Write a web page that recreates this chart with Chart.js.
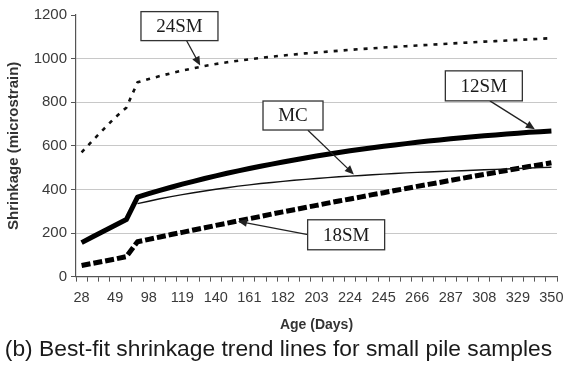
<!DOCTYPE html>
<html>
<head>
<meta charset="utf-8">
<script src="https://cdn.jsdelivr.net/npm/chart.js@4.4.1/dist/chart.umd.min.js"></script>
<style>
  html, body { margin: 0; padding: 0; background: #fff; }
  canvas { display: block; filter: blur(0.4px); }
</style>
</head>
<body>
<canvas id="c" width="563" height="367"></canvas>
<script>
// Sample ages (days) - weekly readings, with a gap between day 56 and day 91
const ageDays = [28, 35, 42, 49, 56, 91, 98, 105, 112, 119, 126, 133, 140, 147, 154, 161,
  168, 175, 182, 189, 196, 203, 210, 217, 224, 231, 238, 245, 252, 259, 266, 273, 280,
  287, 294, 301, 308, 315, 322, 329, 336, 343, 350];

// Days that carry a printed axis label
const labeledDays = [28, 49, 98, 119, 140, 161, 182, 203, 224, 245, 266, 287, 308, 329, 350];

// Best-fit shrinkage (microstrain)
const shrink24SM = [570, 625, 678, 730, 775,
  891, 906, 920, 933, 945, 956, 966, 975, 983, 990,
  997, 1003, 1009, 1014, 1019, 1024, 1028, 1032, 1036, 1040,
  1044, 1047, 1051, 1054, 1057, 1060, 1063, 1066, 1069, 1072,
  1075, 1078, 1080, 1083, 1086, 1088, 1091, 1094];

const shrink12SM = [156, 183, 209, 236, 262,
  365, 381, 396, 410, 424, 437, 450, 462, 474, 485,
  496, 506, 516, 526, 535, 544, 553, 561, 569, 577,
  584, 591, 598, 604, 610, 616, 622, 627, 632, 637,
  642, 646, 650, 654, 658, 662, 665, 668];

const shrinkMC = [null, null, null, null, null,
  335, 346, 357, 367, 376, 385, 393, 401, 408, 415,
  421, 427, 432, 437, 442, 446, 450, 454, 458, 461,
  464, 467, 470, 473, 476, 478, 480, 482, 484, 486,
  488, 490, 492, 494, 496, 498, 500, 502];

const shrink18SM = [51, 61, 71, 81, 92,
  160, 171, 182, 193, 203, 214, 224, 235, 245, 256,
  266, 276, 287, 297, 307, 317, 327, 337, 347, 356,
  366, 376, 385, 395, 404, 414, 423, 432, 442, 451,
  460, 469, 478, 487, 496, 505, 513, 522];

// Boxed series names with arrows; positions in (category index, microstrain)
const callouts = [
  { text: '24SM', cx: 8.75,  cy: 1149, w: 77, h: 29, from: [9.39, 1082],  to: [10.6, 968] },
  { text: '12SM', cx: 35.96, cy: 875,  w: 77, h: 30, from: [36.5, 806],   to: [40.52, 676] },
  { text: 'MC',   cx: 18.9,  cy: 739,  w: 60, h: 29, from: [20.23, 671],  to: [24.34, 469] },
  { text: '18SM', cx: 23.65, cy: 192,  w: 77, h: 30, from: [20.23, 193],  to: [13.98, 254] }
];

Chart.defaults.font.family = "'Liberation Sans', Arial, sans-serif";

const calloutPlugin = {
  id: 'callouts',
  afterDatasetsDraw(chart) {
    const { ctx } = chart;
    const xs = chart.scales.x, ys = chart.scales.y;
    ctx.save();
    callouts.forEach(c => {
      const x0 = xs.getPixelForValue(c.from[0]), y0 = ys.getPixelForValue(c.from[1]);
      const x1 = xs.getPixelForValue(c.to[0]),   y1 = ys.getPixelForValue(c.to[1]);
      const ang = Math.atan2(y1 - y0, x1 - x0);
      const headLen = 9, headHalf = 4;
      // arrow shaft
      ctx.strokeStyle = '#222';
      ctx.lineWidth = 1.3;
      ctx.beginPath();
      ctx.moveTo(x0, y0);
      ctx.lineTo(x1 - Math.cos(ang) * headLen * 0.8, y1 - Math.sin(ang) * headLen * 0.8);
      ctx.stroke();
      // arrow head
      ctx.fillStyle = '#222';
      ctx.beginPath();
      ctx.moveTo(x1, y1);
      ctx.lineTo(x1 - Math.cos(ang) * headLen - Math.sin(ang) * headHalf,
                 y1 - Math.sin(ang) * headLen + Math.cos(ang) * headHalf);
      ctx.lineTo(x1 - Math.cos(ang) * headLen + Math.sin(ang) * headHalf,
                 y1 - Math.sin(ang) * headLen - Math.cos(ang) * headHalf);
      ctx.closePath();
      ctx.fill();
      // box
      const bx = xs.getPixelForValue(c.cx) - c.w / 2;
      const by = ys.getPixelForValue(c.cy) - c.h / 2;
      ctx.fillStyle = '#fff';
      ctx.fillRect(bx, by, c.w, c.h);
      ctx.strokeStyle = '#333';
      ctx.lineWidth = 1.3;
      ctx.strokeRect(bx, by, c.w, c.h);
      // label
      ctx.fillStyle = '#1a1a1a';
      ctx.font = "19px 'Liberation Serif', 'Times New Roman', serif";
      ctx.textAlign = 'center';
      ctx.textBaseline = 'middle';
      ctx.fillText(c.text, bx + c.w / 2, by + c.h / 2 + 1);
    });
    ctx.restore();
  }
};

const lineBase = { pointRadius: 0, pointHoverRadius: 0, tension: 0, fill: false, borderJoinStyle: 'round' };

new Chart(document.getElementById('c'), {
  type: 'line',
  data: {
    labels: ageDays.map(String),
    datasets: [
      Object.assign({ label: '24SM', data: shrink24SM, borderColor: '#111', borderWidth: 2.6, borderDash: [4, 6] }, lineBase),
      Object.assign({ label: '12SM', data: shrink12SM, borderColor: '#000', borderWidth: 5 }, lineBase),
      Object.assign({ label: 'MC', data: shrinkMC, borderColor: '#111', borderWidth: 1.4 }, lineBase),
      Object.assign({ label: '18SM', data: shrink18SM, borderColor: '#000', borderWidth: 5, borderDash: [9, 3] }, lineBase)
    ]
  },
  options: {
    responsive: false,
    animation: false,
    devicePixelRatio: 1,
    layout: { padding: { top: 15, right: 6, bottom: 0, left: 0 } },
    plugins: {
      legend: { display: false },
      tooltip: { enabled: false },
      title: {
        display: true,
        position: 'bottom',
        text: '(b) Best-fit shrinkage trend lines for small pile samples',
        color: '#1a1a1a',
        font: { size: 22.8, weight: 'normal', lineHeight: 1.2 },
        padding: { top: 0, bottom: 4 }
      }
    },
    scales: {
      x: {
        type: 'category',
        offset: true,
        grid: { offset: true, drawOnChartArea: false, drawTicks: true, tickLength: 5, tickColor: '#555', tickWidth: 1 },
        border: { display: true, color: '#555', width: 1.2 },
        ticks: {
          autoSkip: false, maxRotation: 0, minRotation: 0, padding: 8,
          color: '#3a3a3a', font: { size: 14.5 },
          callback: (v, i) => labeledDays.includes(ageDays[i]) ? String(ageDays[i]) : ''
        },
        title: { display: true, text: 'Age (Days)', color: '#333', font: { size: 14, weight: 'bold' }, padding: { top: 0, bottom: 2 } },
        afterFit: s => { s.height = 59; s.paddingLeft = 0; s.paddingRight = 0; }
      },
      y: {
        min: 0, max: 1200,
        grid: {
          color: c => (c.tick.value === 0 || c.tick.value === 1200) ? 'rgba(0,0,0,0)' : '#c8c8c8',
          lineWidth: 1, drawTicks: true, tickLength: 5, tickColor: '#555'
        },
        border: { display: true, color: '#555', width: 1.2 },
        ticks: { stepSize: 200, padding: 4, color: '#3a3a3a', font: { size: 15 }, callback: v => String(v) },
        title: { display: true, text: 'Shrinkage (microstrain)', color: '#333', font: { size: 15, weight: 'bold' }, padding: { top: 5, bottom: 0 } },
        afterFit: s => { s.width = 76; s.paddingTop = 0; s.paddingBottom = 0; }
      }
    }
  },
  plugins: [calloutPlugin]
});
</script>
</body>
</html>
